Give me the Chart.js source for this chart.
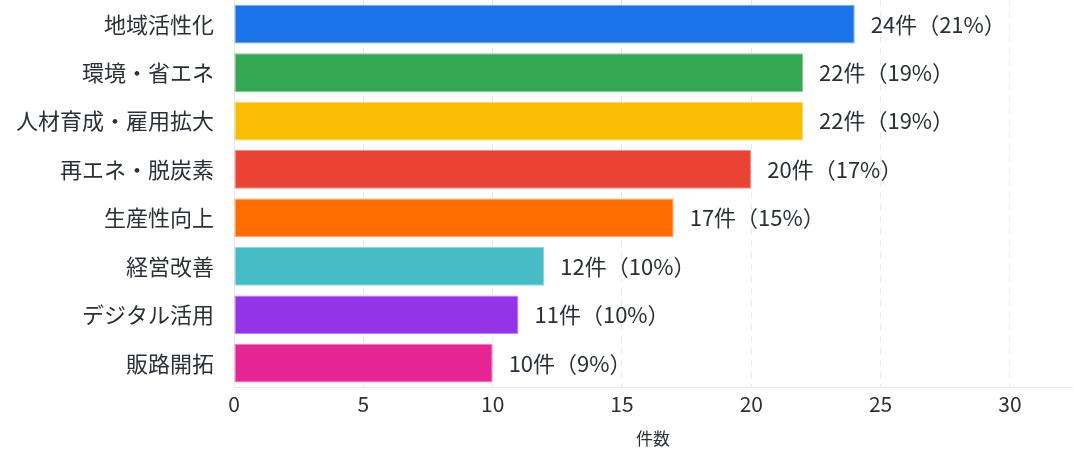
<!DOCTYPE html>
<html>
<head>
<meta charset="utf-8">
<script src="https://cdn.jsdelivr.net/npm/chart.js@4/dist/chart.umd.min.js"></script>
<style>
  html, body { margin: 0; padding: 0; background: #fff; }
  #wrap { width: 1074px; height: 453px; }
</style>
</head>
<body>
<div id="wrap"><canvas id="chart"></canvas></div>
<script>
const categories = ['地域活性化', '環境・省エネ', '人材育成・雇用拡大', '再エネ・脱炭素', '生産性向上', '経営改善', 'デジタル活用', '販路開拓'];
const counts = [24, 22, 22, 20, 17, 12, 11, 10];
const percents = [21, 19, 19, 17, 15, 10, 10, 9];
const barColors = ['#1a73e8', '#34a853', '#fbbc04', '#ea4335', '#ff6d01', '#46bdc6', '#9334e6', '#e52592'];
const xTicks = [0, 5, 10, 15, 20, 25, 30];
const axisTitle = '件数';

const FONT = '"Noto Sans CJK JP", "Noto Sans", sans-serif';
const TEXT = '#2b2f36';

// value labels drawn after the bars
const valueLabels = {
    id: 'valueLabels',
    afterDatasetsDraw(chart) {
        const ctx = chart.ctx;
        const meta = chart.getDatasetMeta(0);
        ctx.save();
        ctx.font = '22px ' + FONT;
        ctx.fillStyle = TEXT;
        ctx.textBaseline = 'middle';
        ctx.textAlign = 'left';
        meta.data.forEach((bar, i) => {
            ctx.fillText(`${counts[i]}件（${percents[i]}%）`, bar.x + 16, bar.y);
        });
        ctx.restore();
    }
};

const ctx = document.getElementById('chart').getContext('2d');
new Chart(ctx, {
    type: 'bar',
    data: {
        labels: categories,
        datasets: [{
            data: counts,
            backgroundColor: barColors,
            borderColor: barColors.map(c => c + '99'),
            borderWidth: 1,
            borderSkipped: false,
            categoryPercentage: 0.8,
            barPercentage: 1.0
        }]
    },
    options: {
        indexAxis: 'y',
        responsive: true,
        maintainAspectRatio: false,
        animation: false,
        layout: { padding: { left: 12, right: 2, top: 0, bottom: 0 } },
        scales: {
            x: {
                min: 0,
                max: 32.4,
                afterBuildTicks(scale) {
                    scale.ticks = xTicks.map(v => ({ value: v }));
                },
                ticks: { color: TEXT, font: { family: FONT, size: 21 }, padding: 4 },
                grid: { color: '#e9e9e9', drawTicks: false },
                border: { color: '#e9e9e9', dash: [6, 6] },
                title: { display: true, text: axisTitle, color: TEXT, font: { family: FONT, size: 17 }, padding: { top: 8 } }
            },
            y: {
                afterFit(scale) {
                    scale.paddingTop = 0;
                    scale.paddingBottom = 0;
                },
                ticks: { color: TEXT, font: { family: FONT, size: 22 }, padding: 4 },
                grid: { display: false, drawTicks: true, tickLength: 16 },
                border: { color: '#e9e9e9' }
            }
        },
        plugins: {
            legend: { display: false },
            tooltip: { enabled: false }
        }
    },
    plugins: [valueLabels]
});
</script>
</body>
</html>
